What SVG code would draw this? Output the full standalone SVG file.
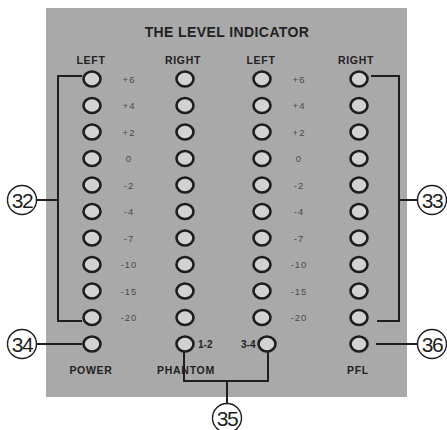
<svg xmlns="http://www.w3.org/2000/svg" width="447" height="430" viewBox="0 0 447 430">
<style>
.panel{fill:#a9a9a9}
.led{fill:#d2d2d2;stroke:#1e1e1e;stroke-width:2.6}
.ln{fill:none;stroke:#1e1e1e;stroke-width:2}
.co{fill:#fff;stroke:#1e1e1e;stroke-width:1.4}
.cot{font-family:"Liberation Sans",Arial,sans-serif;font-size:21px;fill:#1e1e1e;text-anchor:middle;letter-spacing:-1.5px}
.title{font-family:"Liberation Sans",Arial,sans-serif;font-size:14px;font-weight:bold;fill:#222;text-anchor:middle;letter-spacing:0.4px}
.hd{font-family:"Liberation Sans",Arial,sans-serif;font-size:10.5px;font-weight:bold;fill:#222;text-anchor:middle;letter-spacing:0.7px}
.sc{font-family:"Liberation Sans",Arial,sans-serif;font-size:9.5px;fill:#4a4a4a;text-anchor:middle;letter-spacing:1px}
.sm{font-family:"Liberation Sans",Arial,sans-serif;font-size:10px;font-weight:bold;fill:#222}
</style>
<rect class="panel" x="46" y="8" width="361" height="389"/>
<text class="title" x="227" y="37">THE LEVEL INDICATOR</text>
<g id="headers">
<text class="hd" x="91" y="64">LEFT</text>
<text class="hd" x="183" y="64">RIGHT</text>
<text class="hd" x="261" y="64">LEFT</text>
<text class="hd" x="356" y="64">RIGHT</text>
</g>
<g id="scale">
<text class="sc" x="129" y="82.5">+6</text><text class="sc" x="299" y="82.5">+6</text>
<text class="sc" x="129" y="109">+4</text><text class="sc" x="299" y="109">+4</text>
<text class="sc" x="129" y="135.5">+2</text><text class="sc" x="299" y="135.5">+2</text>
<text class="sc" x="129" y="162">0</text><text class="sc" x="299" y="162">0</text>
<text class="sc" x="129" y="188.5">-2</text><text class="sc" x="299" y="188.5">-2</text>
<text class="sc" x="129" y="215">-4</text><text class="sc" x="299" y="215">-4</text>
<text class="sc" x="129" y="241.5">-7</text><text class="sc" x="299" y="241.5">-7</text>
<text class="sc" x="129" y="268">-10</text><text class="sc" x="299" y="268">-10</text>
<text class="sc" x="129" y="294.5">-15</text><text class="sc" x="299" y="294.5">-15</text>
<text class="sc" x="129" y="321">-20</text><text class="sc" x="299" y="321">-20</text>
</g>
<g id="leds-col1">
<ellipse class="led" cx="92" cy="79" rx="8.5" ry="7.5"/>
<ellipse class="led" cx="92" cy="105.5" rx="8.5" ry="7.5"/>
<ellipse class="led" cx="92" cy="132" rx="8.5" ry="7.5"/>
<ellipse class="led" cx="92" cy="158.5" rx="8.5" ry="7.5"/>
<ellipse class="led" cx="92" cy="185" rx="8.5" ry="7.5"/>
<ellipse class="led" cx="92" cy="211.5" rx="8.5" ry="7.5"/>
<ellipse class="led" cx="92" cy="238" rx="8.5" ry="7.5"/>
<ellipse class="led" cx="92" cy="264.5" rx="8.5" ry="7.5"/>
<ellipse class="led" cx="92" cy="291" rx="8.5" ry="7.5"/>
<ellipse class="led" cx="92" cy="317.5" rx="8.5" ry="7.5"/>
</g>
<g id="leds-col2">
<ellipse class="led" cx="185" cy="79" rx="8.5" ry="7.5"/>
<ellipse class="led" cx="185" cy="105.5" rx="8.5" ry="7.5"/>
<ellipse class="led" cx="185" cy="132" rx="8.5" ry="7.5"/>
<ellipse class="led" cx="185" cy="158.5" rx="8.5" ry="7.5"/>
<ellipse class="led" cx="185" cy="185" rx="8.5" ry="7.5"/>
<ellipse class="led" cx="185" cy="211.5" rx="8.5" ry="7.5"/>
<ellipse class="led" cx="185" cy="238" rx="8.5" ry="7.5"/>
<ellipse class="led" cx="185" cy="264.5" rx="8.5" ry="7.5"/>
<ellipse class="led" cx="185" cy="291" rx="8.5" ry="7.5"/>
<ellipse class="led" cx="185" cy="317.5" rx="8.5" ry="7.5"/>
</g>
<g id="leds-col3">
<ellipse class="led" cx="262" cy="79" rx="8.5" ry="7.5"/>
<ellipse class="led" cx="262" cy="105.5" rx="8.5" ry="7.5"/>
<ellipse class="led" cx="262" cy="132" rx="8.5" ry="7.5"/>
<ellipse class="led" cx="262" cy="158.5" rx="8.5" ry="7.5"/>
<ellipse class="led" cx="262" cy="185" rx="8.5" ry="7.5"/>
<ellipse class="led" cx="262" cy="211.5" rx="8.5" ry="7.5"/>
<ellipse class="led" cx="262" cy="238" rx="8.5" ry="7.5"/>
<ellipse class="led" cx="262" cy="264.5" rx="8.5" ry="7.5"/>
<ellipse class="led" cx="262" cy="291" rx="8.5" ry="7.5"/>
<ellipse class="led" cx="262" cy="317.5" rx="8.5" ry="7.5"/>
</g>
<g id="leds-col4">
<ellipse class="led" cx="359" cy="79" rx="8.5" ry="7.5"/>
<ellipse class="led" cx="359" cy="105.5" rx="8.5" ry="7.5"/>
<ellipse class="led" cx="359" cy="132" rx="8.5" ry="7.5"/>
<ellipse class="led" cx="359" cy="158.5" rx="8.5" ry="7.5"/>
<ellipse class="led" cx="359" cy="185" rx="8.5" ry="7.5"/>
<ellipse class="led" cx="359" cy="211.5" rx="8.5" ry="7.5"/>
<ellipse class="led" cx="359" cy="238" rx="8.5" ry="7.5"/>
<ellipse class="led" cx="359" cy="264.5" rx="8.5" ry="7.5"/>
<ellipse class="led" cx="359" cy="291" rx="8.5" ry="7.5"/>
<ellipse class="led" cx="359" cy="317.5" rx="8.5" ry="7.5"/>
</g>
<g id="power">
<ellipse class="led" cx="92" cy="344" rx="8.5" ry="7.5"/>
<text class="hd" x="91" y="374">POWER</text>
</g>
<g id="phantom">
<ellipse class="led" cx="185" cy="344" rx="8.5" ry="7.5"/>
<ellipse class="led" cx="267" cy="344" rx="8.5" ry="7.5"/>
<text class="sm" x="198" y="348">1-2</text>
<text class="sm" x="241" y="348">3-4</text>
<text class="hd" x="186" y="374">PHANTOM</text>
</g>
<g id="pfl">
<ellipse class="led" cx="359" cy="344" rx="8.5" ry="7.5"/>
<text class="hd" x="358" y="374">PFL</text>
</g>
<g id="connectors">
<polyline class="ln" points="82,76 58,76 58,321 82,321"/>
<line class="ln" x1="37" y1="200" x2="58" y2="200"/>
<polyline class="ln" points="371,76 399,76 399,321 377,321"/>
<line class="ln" x1="399" y1="200" x2="418" y2="200"/>
<line class="ln" x1="37" y1="344" x2="82" y2="344"/>
<line class="ln" x1="376" y1="344" x2="418" y2="344"/>
<polyline class="ln" points="184,352 184,381 268,381 268,352"/>
<line class="ln" x1="227" y1="381" x2="227" y2="404"/>
</g>
<g id="c32"><circle class="co" cx="22" cy="200" r="14.5"/><text class="cot" x="22" y="207.5">32</text></g>
<g id="c33"><circle class="co" cx="432" cy="200" r="14.5"/><text class="cot" x="432" y="207.5">33</text></g>
<g id="c34"><circle class="co" cx="22" cy="344" r="14.5"/><text class="cot" x="22" y="351.5">34</text></g>
<g id="c35"><circle class="co" cx="227" cy="418" r="14.5"/><text class="cot" x="227" y="425.5">35</text></g>
<g id="c36"><circle class="co" cx="432" cy="344" r="14.5"/><text class="cot" x="432" y="351.5">36</text></g>
</svg>
